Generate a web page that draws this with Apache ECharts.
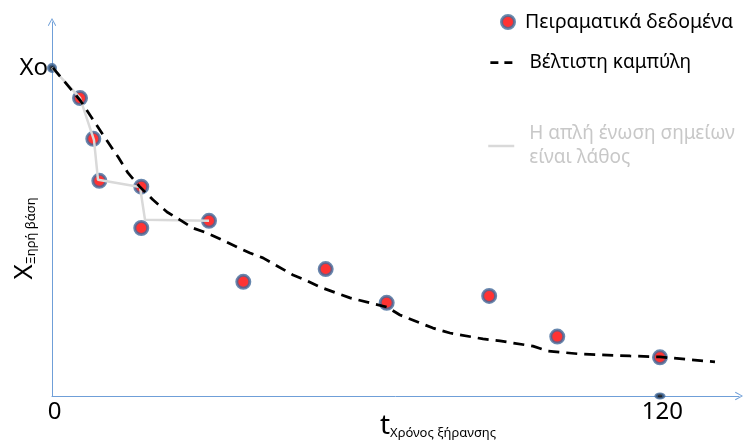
<!DOCTYPE html>
<html><head><meta charset="utf-8">
<script src="https://cdn.jsdelivr.net/npm/echarts@6/dist/echarts.min.js"></script>
<style>html,body{margin:0;padding:0;background:#fff}#c{width:744px;height:443px}</style>
</head><body><div id="c"></div><script>
// Experimental points (x: drying time, y: % of Xo)
const expX = [5.53, 8.15, 9.34, 17.62, 17.62, 30.99, 37.76, 54.02, 66.06, 86.29, 99.73, 120];
const expY = [90.8, 78.4, 65.6, 63.8, 51.2, 53.4, 34.8, 38.7, 28.4, 30.5, 18.1, 11.8];
// Start point Xo and end marker on axis
const startX = [0], startY = [100];
const endX = [120], endY = [0];
// Best-fit curve (hand drawn)
const fitX = [0.2, 5.53, 10.46, 13.03, 15.0, 17.37, 19.93, 22.70, 25.26, 27.83, 30.59, 33.55, 36.51, 39.08, 41.64, 47.57, 49.93, 52.89, 58.82, 66.12, 68.68, 75.20, 78.55, 85.07, 88.42, 94.93, 97.89, 104.21, 114.08, 120.0, 130.86];
const fitY = [100, 90.2, 78.7, 72.9, 68.0, 63.7, 59.8, 56.1, 53.7, 51.2, 49.7, 47.6, 45.4, 43.6, 42.1, 36.9, 35.4, 33.2, 29.9, 27.1, 24.7, 20.7, 19.2, 17.4, 16.8, 15.2, 13.7, 12.8, 12.2, 11.9, 10.4];
// Naive point-joining line
const joinX = [0, 5.53, 8.29, 9.08, 17.37, 18.36, 30.99];
const joinY = [100, 90.9, 78.0, 65.9, 63.7, 53.7, 53.4];
// Tick labels
const xTicks = [0, 120];
const yTickValue = 100, yTickLabel = 'Xo';
const names = ['Πειραματικά δεδομένα', 'Βέλτιστη καμπύλη', 'Η απλή ένωση σημείων είναι λάθος'];

const F = 'Noto Sans';
const zip = (a, b) => a.map((v, i) => [v, b[i]]);
const axisColor = '#6f9fd8';
const chevron = 'path://M5,0 L10,9 L9,9.6 L5,2 L1,9.6 L0,9 Z';

const chart = echarts.init(document.getElementById('c'));
chart.setOption({
  animation: false,
  backgroundColor: '#fff',
  textStyle: { fontFamily: F },
  grid: { left: 52, right: 5, top: 22, bottom: 47, containLabel: false, outerBoundsMode: 'none' },
  xAxis: {
    type: 'value', min: 0, max: 135.6, interval: 120,
    axisLine: { lineStyle: { color: axisColor, width: 1 }, symbol: ['none', chevron], symbolSize: [9, 8] },
    axisTick: { show: false }, splitLine: { show: false },
    axisLabel: { fontSize: 24, color: '#000', fontFamily: F, margin: 4, padding: [0, 0, 0, 5],
      formatter: v => xTicks.includes(v) ? String(v) : '' },
    name: '{big|t}{sub|Χρόνος ξήρανσης}', nameLocation: 'middle', nameGap: 16, nameMoveOverlap: false,
    nameTextStyle: { padding: [0, 0, 0, 85], rich: {
      big: { fontSize: 28, color: '#000', fontFamily: F },
      sub: { fontSize: 13, color: '#000', fontFamily: F, verticalAlign: 'bottom' } } }
  },
  yAxis: {
    type: 'value', min: 0, max: 114, interval: 100,
    axisLine: { show: true, lineStyle: { color: axisColor, width: 1 }, symbol: ['none', chevron], symbolSize: [9, 8] },
    axisTick: { show: false }, splitLine: { show: false },
    axisLabel: { fontSize: 24, color: '#000', fontFamily: F, margin: 4, verticalAlign: 'middle', padding: [0, 0, 18, 0],
      formatter: v => v === yTickValue ? yTickLabel : '' },
    name: '{big|X}{sub|Ξηρή βάση}', nameLocation: 'middle', nameGap: 14, nameRotate: 90, nameMoveOverlap: false,
    nameTextStyle: { padding: [0, 59, 0, 0], rich: {
      big: { fontSize: 26, color: '#000', fontFamily: F },
      sub: { fontSize: 13, color: '#000', fontFamily: F, verticalAlign: 'bottom' } } }
  },
  legend: [
    { data: [names[0]], left: 500, top: 12, padding: 0, itemWidth: 18, itemHeight: 13, icon: 'circle',
      itemStyle: { borderWidth: 3, borderColor: '#41719c', color: '#ff0000' },
      textStyle: { fontSize: 19.5, color: '#000', fontFamily: F, padding: [0, 0, 0, 3] } },
    { data: [names[1]], left: 489, top: 53, padding: 0, itemWidth: 26, itemHeight: 14,
      itemStyle: { opacity: 0 },
      lineStyle: { width: 2.75, color: '#000', type: [8, 6] },
      textStyle: { fontSize: 19, color: '#000', fontFamily: F, padding: [0, 0, 0, 8] } },
    { data: [names[2]], left: 487, top: 122, padding: 0, itemWidth: 26, itemHeight: 14,
      itemStyle: { opacity: 0 },
      lineStyle: { width: 2.5, color: '#d9d9d9' },
      formatter: n => n.replace(' είναι', '\nείναι'),
      textStyle: { fontSize: 19, color: '#c8c8c8', fontFamily: F, lineHeight: 24, padding: [0, 0, 0, 10] } }
  ],
  series: [
    { name: names[0], type: 'scatter', z: 2, data: zip(expX, expY), symbol: 'circle', symbolSize: 13,
      itemStyle: { color: '#ff0000', borderColor: '#41699a', borderWidth: 3 } },
    { name: 'start', type: 'scatter', z: 2, data: zip(startX, startY), symbol: 'circle', symbolSize: 7,
      itemStyle: { color: '#000', borderColor: '#41699a', borderWidth: 3 } },
    { name: 'end', type: 'scatter', z: 5, data: zip(endX, endY),
      symbol: 'path://M0,5 A5,5 0 1,1 10,5 A5,5 0 1,1 0,5 Z', symbolSize: [8, 5],
      itemStyle: { color: '#000', borderColor: '#41699a', borderWidth: 2.5 } },
    { name: names[2], type: 'line', z: 3, data: zip(joinX, joinY), symbol: 'none', smooth: false,
      lineStyle: { color: '#d9d9d9', width: 2.5 }, itemStyle: { color: '#d9d9d9' } },
    { name: names[1], type: 'line', z: 4, data: zip(fitX, fitY), symbol: 'none', smooth: false,
      lineStyle: { color: '#000', width: 2.75, type: [11, 7] }, itemStyle: { color: '#000' } }
  ]
});
</script></body></html>
